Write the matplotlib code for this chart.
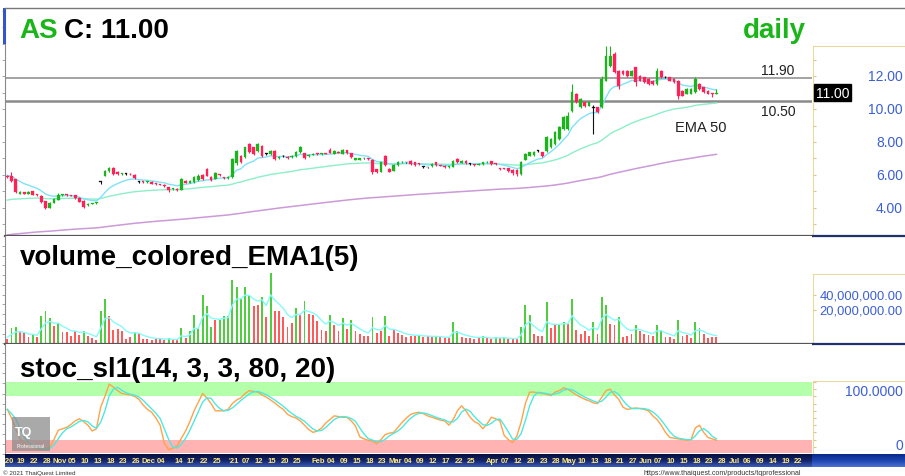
import numpy as np
import pandas as pd
import matplotlib
matplotlib.use("Agg")
import matplotlib.pyplot as plt
from matplotlib.transforms import blended_transform_factory as btf
from matplotlib.patches import Rectangle
from matplotlib.lines import Line2D

plt.rcParams['font.family'] = ['Liberation Sans', 'DejaVu Sans']

# ---------------- data ----------------
symbol = "AS"
timeframe = "daily"
levels = [11.90, 10.50]
start_date, end_date = '2020-10-14', '2021-07-23'
holidays = ['2020-10-23', '2020-12-07', '2020-12-10', '2020-12-31', '2021-01-01',
            '2021-02-12', '2021-02-26', '2021-04-06', '2021-04-13', '2021-04-14',
            '2021-04-15', '2021-05-03', '2021-05-04', '2021-05-26', '2021-06-03']

open_ = [5.90, 5.95, 5.72, 4.86, 4.93, 4.86, 5.00, 4.82, 4.73, 4.38,
         3.98, 4.30, 4.48, 4.76, 4.77, 4.76, 4.76, 4.60, 4.42, 4.14,
         4.24, 4.27, 5.58, 5.95, 6.25, 6.40, 6.20, 6.04, 6.06, 6.08,
         6.00, 5.58, 5.60, 5.55, 5.56, 5.47, 5.42, 5.38, 5.24, 5.12,
         5.16, 5.10, 5.62, 5.53, 5.55, 5.66, 6.00, 6.35, 5.86, 5.75,
         6.02, 5.84, 5.80, 5.85, 6.70, 7.15, 7.06, 7.87, 7.67, 7.47,
         7.77, 7.27, 7.27, 7.47, 7.00, 7.12, 7.10, 7.08, 7.12, 7.37,
         7.33, 7.15, 7.22, 7.27, 7.26, 7.30, 7.50, 7.27, 7.40, 7.27,
         7.50, 7.33, 6.92, 6.93, 7.00, 7.00, 6.92, 6.35, 6.20, 7.12,
         6.35, 6.25, 6.60, 6.76, 6.76, 6.86, 6.76, 6.66, 6.50, 6.45,
         6.52, 6.76, 6.58, 6.55, 6.47, 6.50, 6.96, 6.72, 6.86, 6.66,
         6.62, 6.62, 6.66, 6.76, 6.82, 6.66, 6.40, 6.40, 6.40, 6.30,
         6.30, 6.05, 6.92, 7.17, 7.20, 7.47, 7.37, 7.47, 7.67, 7.88,
         8.18, 8.79, 8.79, 9.91, 10.93, 10.11, 10.42, 10.22, 10.10, 10.11,
         10.11, 11.74, 12.65, 13.36, 12.35, 12.35, 12.35, 12.04, 12.55, 12.04,
         11.94, 11.84, 11.74, 11.54, 12.35, 11.94, 11.94, 11.84, 11.74, 11.13,
         10.93, 10.93, 11.03, 11.54, 11.33, 11.13, 10.98, 10.93]
close = [5.85, 5.65, 4.95, 4.93, 4.86, 4.98, 4.80, 4.76, 4.35, 3.96,
         4.30, 4.52, 4.80, 4.78, 4.76, 4.73, 4.56, 4.36, 4.03, 4.24,
         4.27, 4.28, 5.58, 6.25, 6.40, 6.05, 6.02, 6.10, 6.06, 6.02,
         5.78, 5.58, 5.54, 5.59, 5.46, 5.43, 5.38, 5.32, 5.06, 5.18,
         5.08, 5.72, 5.52, 5.64, 5.85, 5.95, 5.76, 5.95, 5.66, 6.10,
         5.96, 5.80, 5.85, 6.95, 7.45, 6.76, 7.67, 7.37, 7.27, 7.87,
         7.16, 7.27, 7.47, 6.96, 7.10, 7.12, 7.00, 7.16, 7.40, 7.67,
         7.00, 7.22, 7.27, 7.25, 7.30, 7.27, 7.33, 7.47, 7.36, 7.50,
         7.33, 7.06, 7.00, 7.00, 7.00, 6.94, 6.15, 6.20, 6.76, 6.60,
         6.20, 6.60, 6.80, 6.78, 6.76, 6.66, 6.60, 6.64, 6.50, 6.45,
         6.66, 6.60, 6.55, 6.45, 6.50, 6.86, 6.76, 6.86, 6.72, 6.66,
         6.60, 6.66, 6.76, 6.78, 6.66, 6.64, 6.38, 6.38, 6.25, 6.10,
         6.05, 6.76, 7.27, 7.37, 7.40, 7.47, 7.13, 8.28, 8.18, 8.59,
         8.90, 9.50, 9.60, 11.03, 10.42, 10.62, 10.22, 10.42, 10.10, 9.81,
         11.84, 13.26, 13.26, 12.25, 11.43, 12.15, 12.04, 12.35, 11.64, 11.74,
         11.64, 11.54, 11.54, 12.35, 11.94, 11.94, 11.74, 11.64, 10.82, 10.82,
         11.23, 11.23, 11.84, 11.23, 11.03, 10.93, 10.93, 11.00]
high = [5.98, 6.15, 5.76, 5.00, 4.98, 5.04, 5.04, 4.86, 4.76, 4.42,
        4.33, 4.56, 4.88, 4.84, 4.82, 4.80, 4.79, 4.64, 4.45, 4.28,
        4.30, 4.32, 5.60, 6.30, 6.48, 6.46, 6.24, 6.14, 6.12, 6.12,
        6.04, 5.60, 5.64, 5.63, 5.60, 5.50, 5.45, 5.42, 5.28, 5.22,
        5.20, 5.80, 5.68, 5.70, 5.90, 6.02, 6.06, 6.42, 5.90, 6.18,
        6.06, 5.88, 5.90, 7.00, 7.52, 7.20, 7.72, 7.95, 7.72, 7.92,
        7.82, 7.32, 7.52, 7.52, 7.15, 7.18, 7.14, 7.20, 7.45, 7.77,
        7.36, 7.26, 7.30, 7.30, 7.34, 7.33, 7.65, 7.50, 7.44, 7.55,
        7.54, 7.36, 7.04, 7.04, 7.04, 7.03, 6.95, 6.38, 6.80, 7.20,
        6.40, 6.64, 6.84, 6.82, 6.80, 6.90, 6.80, 6.70, 6.52, 6.50,
        6.70, 6.80, 6.62, 6.58, 6.54, 6.92, 7.00, 6.90, 6.90, 6.70,
        6.66, 6.70, 6.80, 6.82, 6.86, 6.70, 6.42, 6.44, 6.44, 6.34,
        6.36, 6.85, 7.32, 7.42, 7.45, 7.52, 7.40, 8.35, 8.25, 8.66,
        8.98, 9.60, 9.80, 11.54, 11.00, 10.70, 10.46, 10.46, 10.25, 10.15,
        12.04, 13.87, 13.87, 13.50, 12.40, 12.40, 12.40, 12.42, 12.60, 12.10,
        11.98, 11.88, 11.78, 12.50, 12.40, 12.00, 11.98, 11.88, 11.78, 11.18,
        11.28, 11.28, 11.95, 11.58, 11.38, 11.16, 11.00, 11.23]
low = [5.80, 5.55, 4.90, 4.82, 4.82, 4.84, 4.76, 4.72, 4.30, 3.90,
       3.95, 4.26, 4.45, 4.72, 4.72, 4.70, 4.52, 4.32, 3.98, 4.10,
       4.20, 4.24, 5.42, 5.92, 6.20, 6.00, 5.98, 6.00, 6.00, 5.98,
       5.74, 5.48, 5.50, 5.52, 5.42, 5.40, 5.35, 5.28, 4.98, 5.08,
       5.04, 5.08, 5.48, 5.50, 5.52, 5.62, 5.70, 5.90, 5.60, 5.72,
       5.90, 5.76, 5.76, 5.80, 6.62, 6.70, 7.00, 7.32, 7.22, 7.42,
       7.10, 7.20, 7.22, 6.90, 6.95, 7.06, 6.96, 7.04, 7.08, 7.32,
       6.95, 7.10, 7.18, 7.22, 7.22, 7.24, 7.30, 7.24, 7.32, 7.24,
       7.28, 7.02, 6.88, 6.90, 6.96, 6.90, 6.05, 6.10, 6.16, 6.56,
       6.16, 6.22, 6.56, 6.72, 6.72, 6.62, 6.56, 6.60, 6.42, 6.40,
       6.48, 6.56, 6.52, 6.42, 6.44, 6.48, 6.72, 6.70, 6.68, 6.62,
       6.56, 6.58, 6.62, 6.72, 6.62, 6.60, 6.30, 6.34, 6.20, 6.00,
       5.95, 6.00, 6.88, 7.12, 7.16, 7.40, 7.08, 7.42, 7.62, 7.84,
       8.12, 8.72, 8.74, 9.86, 10.36, 10.05, 10.16, 10.18, 8.50, 9.76,
       10.05, 11.70, 12.60, 12.20, 11.23, 12.10, 11.98, 12.00, 11.43, 11.70,
       11.60, 11.50, 11.50, 11.50, 11.90, 11.88, 11.70, 11.60, 10.62, 10.78,
       10.90, 10.90, 11.00, 11.20, 11.00, 10.90, 10.75, 10.90]

# volume in millions of shares
vol_m = [5.3, 20.0, 21.3, 16.0, 13.3, 8.0, 10.7, 8.0, 36.0, 42.7,
         33.3, 22.7, 26.7, 14.7, 14.7, 9.3, 16.0, 10.7, 16.0, 9.3,
         6.7, 4.0, 42.7, 58.7, 36.0, 17.3, 18.7, 16.0, 5.3, 8.0,
         14.7, 12.0, 5.3, 5.3, 4.0, 5.3, 5.3, 4.0, 6.7, 4.0,
         4.0, 20.0, 6.7, 16.0, 37.3, 20.0, 64.0, 49.3, 21.3, 30.7,
         30.7, 36.0, 36.0, 84.0, 74.7, 60.0, 74.7, 62.7, 49.3, 50.7,
         61.3, 34.7, 93.3, 42.7, 42.7, 34.7, 21.3, 26.7, 46.7, 37.3,
         56.0, 38.7, 37.3, 29.3, 17.3, 16.0, 37.3, 24.0, 16.0, 33.3,
         18.7, 30.7, 16.0, 12.0, 9.3, 9.3, 34.7, 13.3, 16.0, 36.0,
         9.3, 17.3, 13.3, 10.7, 8.0, 9.3, 9.3, 10.7, 8.0, 9.3,
         8.0, 9.3, 8.0, 6.7, 6.7, 28.0, 16.0, 8.0, 6.7, 6.7,
         5.3, 6.7, 9.3, 6.7, 5.3, 8.0, 6.7, 8.0, 5.3, 5.3,
         5.3, 21.3, 50.7, 37.3, 12.0, 9.3, 9.3, 54.7, 20.0, 24.0,
         25.3, 28.0, 25.3, 58.7, 17.3, 12.0, 16.0, 9.3, 28.0, 12.0,
         61.3, 50.7, 25.3, 24.0, 34.7, 8.0, 9.3, 12.0, 24.0, 16.0,
         12.0, 10.7, 9.3, 24.0, 17.3, 8.0, 8.0, 5.3, 30.7, 9.3,
         10.7, 6.7, 28.0, 20.0, 12.0, 6.7, 8.0, 8.0]
vol_dir = ("rggrrrgrgg" "grgrrrrrgr" "rrggrrrrrr" "grrrrrrrgr" "rgrggggggr"
           "ggggggggrr" "grgrrrrrgr" "grrrrrgrrg" "rgr"
           "rrrgrrgrrr" "rrrrgrrrgr" "rrggrrrrrg" "rrgrgrrrgg" "grrrgrrggr"
           "grrrrgrggr" "rgrrrgrrrr" "ggrrrgrrrg" "grrrr")

stoch_k = [62, 50, 35, 21, 15, 12, 9, 7, 6, 7,
           10, 20, 33, 35, 37, 41, 46, 49, 45, 40,
           32, 35, 65, 80, 97, 93, 88, 84, 83, 82,
           80, 76, 68, 62, 58, 50, 40, 15, 6, 8,
           11, 22, 32, 45, 60, 72, 84, 78, 70, 60,
           60, 60, 62, 70, 75, 78, 84, 88, 87, 86,
           82, 79, 75, 71, 66, 62, 55, 52, 50, 46,
           40, 34, 30, 32, 36, 43, 48, 53, 52, 51,
           51, 46, 39, 24, 21, 19, 18, 14, 20, 27,
           29, 30, 37, 44, 50, 55, 57, 58, 56, 53,
           51, 49, 47, 46, 40, 48, 60, 67, 60, 51,
           45, 42, 35, 42, 51, 49, 46, 26, 20, 16,
           25, 44, 70, 86, 86, 85, 84, 83, 81, 86,
           88, 92, 90, 86, 82, 79, 76, 74, 71, 70,
           79, 88, 90, 82, 76, 65, 62, 63, 64, 63,
           62, 60, 53, 48, 40, 30, 23, 22, 21, 20,
           19, 20, 36, 40, 30, 23, 21, 19]

ema_fast_seed, ema50_seed, ema200_seed, vol_ema_seed = 6.0, 4.4, 2.3, 9.0

price_ticks = [12, 10, 8, 6, 4]
vol_ticks_m = [40, 20]
stoch_ticks = [100, 0]

tick_dates = ['2020-10-14', '2020-10-19', '2020-10-22', '2020-10-28', '2020-11-02', '2020-11-05',
              '2020-11-10', '2020-11-13', '2020-11-18', '2020-11-23', '2020-11-26', '2020-12-01',
              '2020-12-04', '2020-12-14', '2020-12-17', '2020-12-22', '2020-12-25', '2021-01-04',
              '2021-01-07', '2021-01-12', '2021-01-15', '2021-01-20', '2021-01-25', '2021-02-01',
              '2021-02-04', '2021-02-09', '2021-02-15', '2021-02-18', '2021-02-23', '2021-03-01',
              '2021-03-04', '2021-03-09', '2021-03-12', '2021-03-17', '2021-03-22', '2021-03-25',
              '2021-04-01', '2021-04-07', '2021-04-12', '2021-04-20', '2021-04-23', '2021-04-28',
              '2021-05-05', '2021-05-10', '2021-05-13', '2021-05-18', '2021-05-21', '2021-05-27',
              '2021-06-01', '2021-06-07', '2021-06-10', '2021-06-15', '2021-06-18', '2021-06-23',
              '2021-06-28', '2021-07-01', '2021-07-06', '2021-07-09', '2021-07-14', '2021-07-19',
              '2021-07-22']
tick_labels = ["'20", '19', '22', '28', 'Nov', '05', '10', '13', '18', '23', '26', 'Dec',
               '04', '14', '17', '22', '25', "'21", '07', '12', '15', '20', '25', 'Feb',
               '04', '09', '15', '18', '23', 'Mar', '04', '09', '12', '17', '22', '25',
               'Apr', '07', '12', '20', '23', '28', 'May', '10', '13', '18', '21', '27',
               'Jun', '07', '10', '15', '18', '23', '28', 'Jul', '06', '09', '14', '19', '22']

# ---------------- helpers ----------------
W, H = 905, 477
fig = plt.figure(figsize=(W / 100, H / 100), dpi=100)
fig.patch.set_facecolor('white')


def fx(x):
    return x / W


def fy(y):
    return 1 - y / H


def px_axes(x0, y0, x1, y1, **kw):
    return fig.add_axes([x0 / W, 1 - y1 / H, (x1 - x0) / W, (y1 - y0) / H], **kw)


def ema(vals, period, seed):
    a = 2.0 / (period + 1)
    e = seed
    out = []
    for v in vals:
        e = e + a * (v - e)
        out.append(e)
    return np.array(out)


cal = pd.bdate_range(start_date, end_date)
cal = cal[~cal.isin(pd.to_datetime(holidays))]
pos = {d: i for i, d in enumerate(cal)}
tick_pos = [pos[pd.Timestamp(d)] for d in tick_dates]

o = np.array(open_)
c = np.array(close)
hi = np.array(high)
lo = np.array(low)
n = len(c)
x = np.arange(n)
XLIM = (-0.53, 189.5)

UP, DN = '#1cb41c', '#ff2058'
LABEL_BLUE = '#3b5fd6'

# ---------------- price panel ----------------
ax = px_axes(5, 9, 812, 237)
ax.set_xlim(*XLIM)
ax.set_ylim(2.27, 16.17)
ax.plot(x, ema(c, 200, ema200_seed), color='#cc9ad8', lw=1.1, zorder=1)
ax.plot(x, ema(c, 50, ema50_seed), color='#8cefc8', lw=1.0, zorder=1)
ax.plot(x, ema(c, 10, ema_fast_seed), color='#7fe2fa', lw=1.0, zorder=1)
for lv, lw in zip(levels, [1.1, 1.8]):
    ax.axhline(lv, color='#8a8a8a', lw=lw, zorder=0.5)
cols = np.where(c > o, UP, np.where(c < o, DN, '#111111'))
ax.vlines(x, lo, hi, colors=cols, lw=0.8, zorder=2)
ax.bar(x, np.maximum(np.abs(c - o), 0.05), bottom=np.minimum(o, c), width=0.62,
       color=cols, edgecolor=cols, linewidth=0.2, zorder=3)
tr = btf(ax.transAxes, ax.transData)
ax.text(0.958, levels[0] + 0.5, f"{levels[0]:.2f}", transform=tr, ha='center', va='center',
        fontsize=10, color='#222222')
ax.text(0.958, levels[1] - 0.6, f"{levels[1]:.2f}", transform=tr, ha='center', va='center',
        fontsize=10, color='#222222')
ax.text(0.862, 8.9, "EMA 50", transform=tr, ha='center', va='center', fontsize=10.5, color='#222222')
ax.set_xticks([])
ax.set_yticks(np.arange(3, 17, 1))
ax.tick_params(axis='y', length=2, width=0.6, color='#999999', labelleft=False, direction='out')
for s in ['top', 'right']:
    ax.spines[s].set_visible(False)
ax.spines['left'].set_color('#8a8a8a')
ax.spines['bottom'].set_color('#555555')
ax.spines['bottom'].set_linewidth(1.6)

# right price box
axr = px_axes(813, 47, 905, 237)
axr.set_ylim(2.27, 13.85)
axr.set_xticks([]); axr.set_yticks(np.arange(3, 14, 1))
axr.tick_params(axis='y', length=2, color='#d8c880', labelleft=False, direction='in')
axr.spines['right'].set_visible(False)
axr.spines['bottom'].set_color('#22306e'); axr.spines['bottom'].set_linewidth(1.6)
axr.spines['left'].set_color('#eadb9c'); axr.spines['top'].set_color('#eadb9c')
trr = btf(axr.transAxes, axr.transData)
for v in price_ticks:
    axr.text((903 - 813) / 92, v, f"{v:.2f}", transform=trr, ha='right', va='center',
             fontsize=10, color=LABEL_BLUE, clip_on=False)
axr.text(3 / 92, c[-1], f"{c[-1]:.2f}", transform=trr, ha='left', va='center', fontsize=10,
         color='white', bbox=dict(boxstyle='square,pad=0.12', fc='black', ec='black'))

# titles
fig.text(fx(19), fy(37.5), symbol, fontsize=20, fontweight='bold', color='#19b519', va='baseline')
fig.text(fx(64), fy(37.5), f"C: {c[-1]:.2f}", fontsize=20, fontweight='bold', color='black', va='baseline')
fig.text(fx(806), fy(37.5), timeframe, fontsize=20, fontweight='bold', color='#19b519',
         va='baseline', ha='right')

# ---------------- volume panel ----------------
av = px_axes(5, 237, 812, 345)
av.set_xlim(*XLIM)
av.set_ylim(-1, 143)
vcols = ['#4fcf3f' if d == 'g' else '#ff5a5a' for d in vol_dir]
av.bar(x, vol_m, width=0.45, color=vcols, zorder=2)
av.plot(x, ema(np.array(vol_m), 5, vol_ema_seed), color='#86fafa', lw=1.0, zorder=3)
av.set_xticks([])
av.set_yticks(np.arange(0, 143, 13))
av.tick_params(axis='y', length=2, width=0.6, color='#999999', labelleft=False)
for s in ['top', 'right']:
    av.spines[s].set_visible(False)
av.spines['left'].set_color('#8a8a8a')
av.spines['bottom'].set_color('#555555'); av.spines['bottom'].set_linewidth(1.6)
fig.text(fx(20), fy(265), "volume_colored_EMA1(5)", fontsize=20, fontweight='bold',
         color='black', va='baseline')

avr = px_axes(813, 275, 905, 345)
avr.set_ylim(-25.3, 68)
avr.set_xticks([]); avr.set_yticks(vol_ticks_m)
avr.tick_params(axis='y', length=2, color='#d8c880', labelleft=False, direction='in')
avr.spines['right'].set_visible(False)
avr.spines['left'].set_color('#eadb9c'); avr.spines['top'].set_color('#eadb9c')
avr.spines['bottom'].set_color('#22306e'); avr.spines['bottom'].set_linewidth(1.6)
trv = btf(avr.transAxes, avr.transData)
for v in vol_ticks_m:
    avr.text((903 - 813) / 92, v, f"{v * 1e6:,.2f}", transform=trv, ha='right', va='center',
             fontsize=9.3, color=LABEL_BLUE, clip_on=False)

# ---------------- stochastic panel ----------------
ast = px_axes(5, 345, 812, 455)
ast.set_xlim(*XLIM)
ast.set_ylim(0, 152.8)
ast.axhspan(80, 100, color='#b3ffaa', zorder=0, lw=0)
ast.axhspan(1.5, 20, color='#ffb3b3', zorder=0, lw=0)
k = np.array(stoch_k, dtype=float)
d = pd.Series(k).rolling(3, min_periods=1).mean().values
ast.plot(x, k, color='#ffa348', lw=1.0, zorder=2)
ast.plot(x, d, color='#4de8e0', lw=1.0, zorder=2)
ast.set_xticks([])
ast.set_yticks(np.arange(0, 150, 14))
ast.tick_params(axis='y', length=2, width=0.6, color='#999999', labelleft=False)
for s in ['top', 'right', 'bottom']:
    ast.spines[s].set_visible(False)
ast.spines['left'].set_color('#8a8a8a')
fig.text(fx(20), fy(377), "stoc_sl1(14, 3, 3, 80, 20)", fontsize=20, fontweight='bold',
         color='black', va='baseline')

asr = px_axes(813, 382, 905, 455)
asr.set_ylim(0, 101.4)
asr.set_xticks([]); asr.set_yticks(np.arange(0, 101, 10))
asr.tick_params(axis='y', length=2, color='#d8c880', labelleft=False, direction='in')
asr.spines['right'].set_visible(False); asr.spines['bottom'].set_visible(False)
asr.spines['left'].set_color('#eadb9c'); asr.spines['top'].set_color('#eadb9c')
trs = btf(asr.transAxes, asr.transData)
asr.text((903 - 813) / 92, stoch_ticks[0] - 3, f"{stoch_ticks[0]:.4f}", transform=trs, ha='right',
         va='top', fontsize=10, color=LABEL_BLUE, clip_on=False)
asr.text((903 - 813) / 92, stoch_ticks[1] + 3, f"{stoch_ticks[1]}", transform=trs, ha='right',
         va='bottom', fontsize=10, color=LABEL_BLUE, clip_on=False)

# TQ logo watermark
lg = px_axes(12, 418, 50, 452)
lg.set_facecolor('#8c8c8c'); lg.patch.set_alpha(0.75)
lg.set_xticks([]); lg.set_yticks([])
for s in lg.spines.values():
    s.set_visible(False)
lg.text(0.08, 0.55, "TQ", fontsize=9, fontweight='bold', color='white', transform=lg.transAxes, va='center')
lg.text(0.5, 0.1, "Professional", fontsize=3.6, color='white', transform=lg.transAxes, ha='center', va='bottom')

# ---------------- date axis bar ----------------
ad = px_axes(5, 455, 812, 468)
ad.set_xlim(*XLIM); ad.set_ylim(0, 1)
grad = np.linspace(0, 1, 20).reshape(-1, 1)
ad.imshow(grad, extent=(XLIM[0], XLIM[1], 0, 1), aspect='auto', origin='upper',
          cmap=matplotlib.colors.LinearSegmentedColormap.from_list('nav', ['#06103f', '#14246a', '#3a5ab8']))
for p, lab in zip(tick_pos, tick_labels):
    ad.text(p + 0.3, 0.5, lab, ha='center', va='center',
            fontsize=5.5, fontweight='bold', color='#ffe97a', clip_on=True)
ad.set_xticks([]); ad.set_yticks([])
for s in ad.spines.values():
    s.set_visible(False)
adr = px_axes(812, 455, 905, 468)
adr.imshow(grad, extent=(0, 1, 0, 1), aspect='auto', origin='upper',
           cmap=matplotlib.colors.LinearSegmentedColormap.from_list('nav2', ['#0a2a8a', '#1d45b0', '#4a70d0']))
adr.set_xticks([]); adr.set_yticks([])
for s in adr.spines.values():
    s.set_visible(False)

# frame decorations
fig.add_artist(Line2D([fx(5), 1], [fy(9), fy(9)], color='#777777', lw=1.0))
fig.add_artist(Rectangle((fx(3), fy(45)), 3 / W, 36 / H, transform=fig.transFigure,
                         color='#3355cc', lw=0))

fig.text(fx(3), fy(473), "© 2021 ThaiQuest Limited", fontsize=4.5, color='#333333', va='center')
fig.text(fx(643), fy(473.5), "https://www.thaiquest.com/products/tqprofessional",
         fontsize=5, color='#333333', va='center')

fig.savefig("out.png", dpi=100)
